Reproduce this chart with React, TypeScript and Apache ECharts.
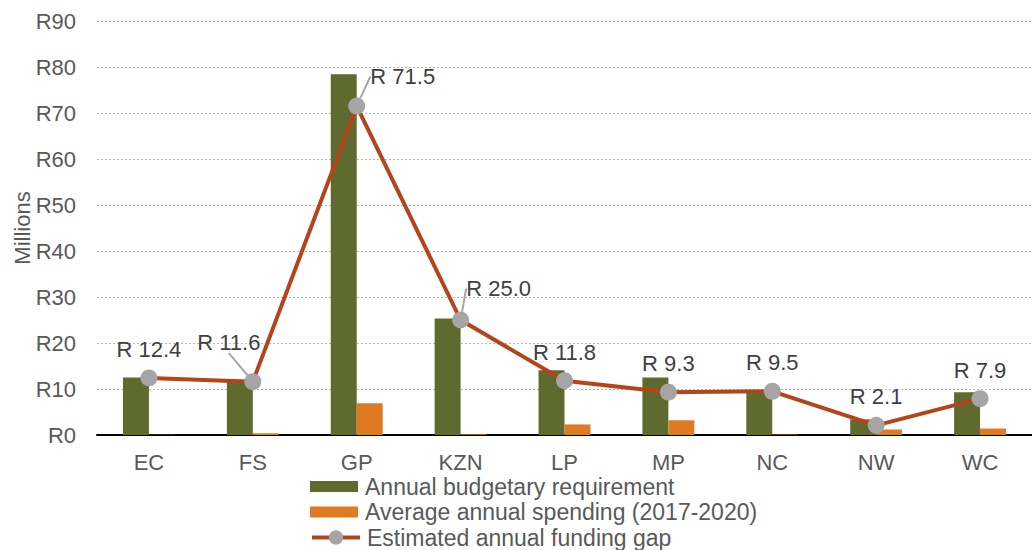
import React, { useEffect, useRef } from "react";
import * as echarts from "echarts";

const provinces = ["EC", "FS", "GP", "KZN", "LP", "MP", "NC", "NW", "WC"];
const budgetRequirement = [12.5, 12.0, 78.4, 25.3, 14.1, 12.5, 9.7, 3.4, 9.3];
const averageSpending = [0.05, 0.4, 6.9, 0.15, 2.3, 3.2, 0.1, 1.2, 1.4];
const fundingGap = [12.4, 11.6, 71.5, 25.0, 11.8, 9.3, 9.5, 2.1, 7.9];
const yTicks = [0, 10, 20, 30, 40, 50, 60, 70, 80, 90];

const seriesNames = [
  "Annual budgetary requirement",
  "Average annual spending (2017-2020)",
  "Estimated annual funding gap",
];

// extra label shifts for the points whose labels sit beside the marker
const labelShift: Record<number, [number, number]> = {
  1: [-24, -11],
  2: [46, -1],
  3: [38, -3],
};

const FONT = "'Liberation Sans', Arial, sans-serif";
const AXIS_TEXT = { fontSize: 22, color: "#595959", fontFamily: FONT };
const LEGEND_TEXT = { fontSize: 23, color: "#595959", fontFamily: FONT, padding: [0, 0, 0, 2] };

const legendRow = (top: number, item: any, itemHeight = 11) => ({
  left: 310,
  top,
  padding: 0,
  itemWidth: 48,
  itemHeight,
  itemGap: 0,
  textStyle: LEGEND_TEXT,
  data: [item],
});

export default function App() {
  const ref = useRef<HTMLDivElement>(null);

  useEffect(() => {
    const chart = echarts.init(ref.current!, null, { renderer: "svg" });
    chart.setOption({
      animation: false,
      textStyle: { fontFamily: FONT },
      grid: { left: 97, right: 0, top: 21, bottom: 115, outerBoundsMode: "none" },
      legend: [
        legendRow(475, { name: seriesNames[0], icon: "rect" }),
        legendRow(500.5, { name: seriesNames[1], icon: "rect" }),
        legendRow(
          526,
          { name: seriesNames[2], lineStyle: { width: 4, color: "#B5441A" } },
          18
        ),
      ],
      xAxis: {
        type: "category",
        data: provinces,
        axisLine: { lineStyle: { color: "#000", width: 2 } },
        axisTick: { show: false },
        axisLabel: { ...AXIS_TEXT, margin: 16 },
      },
      yAxis: {
        type: "value",
        min: yTicks[0],
        max: yTicks[yTicks.length - 1],
        interval: 10,
        name: "Millions",
        nameLocation: "middle",
        nameGap: 64,
        nameMoveOverlap: false,
        nameTextStyle: { fontSize: 22, color: "#595959" },
        axisLabel: {
          ...AXIS_TEXT,
          margin: 21,
          formatter: (v: number) => "R" + v,
        },
        splitLine: { lineStyle: { color: "#b8b8b8", type: [2, 2], width: 1 } },
      },
      series: [
        {
          name: seriesNames[0],
          type: "bar",
          data: budgetRequirement,
          barGap: "0%",
          barCategoryGap: "50%",
          itemStyle: { color: "#5F6B2E" },
        },
        {
          name: seriesNames[1],
          type: "bar",
          data: averageSpending,
          itemStyle: { color: "#DE7B22" },
        },
        {
          name: seriesNames[2],
          type: "line",
          data: fundingGap.map((v, i) => ({
            value: v,
            labelLine: { show: !!labelShift[i] },
          })),
          symbol: "circle",
          symbolSize: 17,
          lineStyle: { color: "#B5441A", width: 4 },
          itemStyle: { color: "#A5A5A5" },
          z: 5,
          label: {
            show: true,
            position: "top",
            distance: 9,
            fontSize: 22,
            color: "#404040",
            formatter: (p: any) => "R " + Number(p.value).toFixed(1),
          },
          labelLine: { lineStyle: { color: "#A5A5A5", width: 2 } },
          labelLayout: (p: any) => {
            const s = labelShift[p.dataIndex];
            return s ? { dx: s[0], dy: s[1] } : {};
          },
        },
      ],
    });
    return () => chart.dispose();
  }, []);

  return (
    <div
      ref={ref}
      style={{ position: "fixed", left: 0, top: 0, width: 1032, height: 550, background: "#fff" }}
    />
  );
}
